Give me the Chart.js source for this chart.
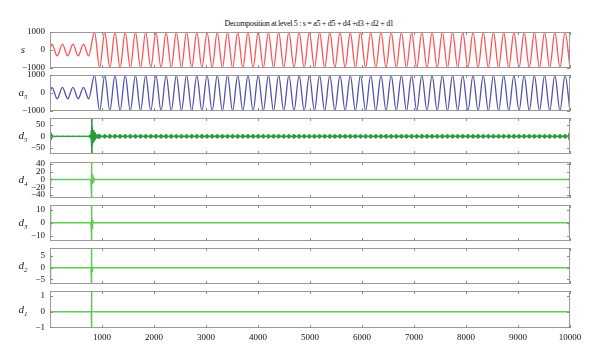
<!DOCTYPE html>
<html lang="en">
<head>
  <meta charset="UTF-8" />
  <title>Decomposition at level 5</title>
  <script src="https://cdn.jsdelivr.net/npm/chart.js"></script>
  <style>
    body { margin: 0; background: #fff; }
    #wrap { position: relative; width: 600px; height: 359px; font-family: 'Liberation Serif', serif; color: #222; }
    #wrap canvas { position: absolute; left: 0; }
    .title { position: absolute; top: 19px; left: 0; width: 618px; text-align: center; font-size: 8px; letter-spacing: -0.3px; color: #111; }
    .ylab { position: absolute; left: 12px; width: 22px; text-align: center; font-size: 11px; font-style: italic; line-height: 12px; }
    .ylab sub { font-size: 7px; }
  </style>
</head>
<body>
<div id="wrap">
  <div class="title">Decomposition at level 5 : s = a5 + d5 + d4 +d3 + d2 + d1</div>
</div>

<script>
  // ── data ────────────────────────────────────────────────────
  const xTicks = [1000, 2000, 3000, 4000, 5000, 6000, 7000, 8000, 9000, 10000];

  // s and a5: positions of the peaks / troughs
  const sX = [1, 38, 139, 240, 341, 442, 543, 644, 745,
    857, 955, 1054, 1152, 1250, 1349, 1447, 1545, 1644, 1742, 1841, 1939, 2037, 2136, 2234, 2332,
    2431, 2529, 2627, 2726, 2824, 2922, 3021, 3119, 3217, 3316, 3414, 3512, 3611, 3709, 3808, 3906,
    4004, 4103, 4201, 4299, 4398, 4496, 4594, 4693, 4791, 4889, 4988, 5086, 5184, 5283, 5381, 5479,
    5578, 5676, 5775, 5873, 5971, 6070, 6168, 6266, 6365, 6463, 6561, 6660, 6758, 6856, 6955, 7053,
    7151, 7250, 7348, 7446, 7545, 7643, 7742, 7840, 7938, 8037, 8135, 8233, 8332, 8430, 8528, 8627,
    8725, 8823, 8922, 9020, 9118, 9217, 9315, 9413, 9512, 9610, 9709, 9807, 9905, 10000];

  const sY = [60, 330, -330, 330, -330, 330, -330, 330, -330,
    1000, -1000, 1000, -1000, 1000, -1000, 1000, -1000, 1000, -1000, 1000, -1000, 1000, -1000, 1000, -1000,
    1000, -1000, 1000, -1000, 1000, -1000, 1000, -1000, 1000, -1000, 1000, -1000, 1000, -1000, 1000, -1000,
    1000, -1000, 1000, -1000, 1000, -1000, 1000, -1000, 1000, -1000, 1000, -1000, 1000, -1000, 1000, -1000,
    1000, -1000, 1000, -1000, 1000, -1000, 1000, -1000, 1000, -1000, 1000, -1000, 1000, -1000, 1000, -1000,
    1000, -1000, 1000, -1000, 1000, -1000, 1000, -1000, 1000, -1000, 1000, -1000, 1000, -1000, 1000, -1000,
    1000, -1000, 1000, -1000, 1000, -1000, 1000, -1000, 1000, -1000, 1000, -1000, 1000, -990];

  const a5Y = [55, 315, -320, 318, -320, 318, -320, 318, -320,
    990, -995, 995, -995, 995, -995, 995, -995, 995, -995, 995, -995, 995, -995, 995, -995,
    995, -995, 995, -995, 995, -995, 995, -995, 995, -995, 995, -995, 995, -995, 995, -995,
    995, -995, 995, -995, 995, -995, 995, -995, 995, -995, 995, -995, 995, -995, 995, -995,
    995, -995, 995, -995, 995, -995, 995, -995, 995, -995, 995, -995, 995, -995, 995, -995,
    995, -995, 995, -995, 995, -995, 995, -995, 995, -995, 995, -995, 995, -995, 995, -995,
    995, -995, 995, -995, 995, -995, 995, -995, 995, -995, 995, -995, 995, -985];

  // d5: edge spike, small ripple, burst at the jump, then the ripple
  const d5X = [1, 12, 25, 40, 60, 139, 240, 341, 442, 543, 644, 745,
    770, 785, 795, 801, 805, 810, 818, 828, 840, 852, 866, 880, 900, 920,
    955, 1054, 1152, 1250, 1349, 1447, 1545, 1644, 1742, 1841, 1939, 2037, 2136, 2234, 2332,
    2431, 2529, 2627, 2726, 2824, 2922, 3021, 3119, 3217, 3316, 3414, 3512, 3611, 3709, 3808, 3906,
    4004, 4103, 4201, 4299, 4398, 4496, 4594, 4693, 4791, 4889, 4988, 5086, 5184, 5283, 5381, 5479,
    5578, 5676, 5775, 5873, 5971, 6070, 6168, 6266, 6365, 6463, 6561, 6660, 6758, 6856, 6955, 7053,
    7151, 7250, 7348, 7446, 7545, 7643, 7742, 7840, 7938, 8037, 8135, 8233, 8332, 8430, 8528, 8627,
    8725, 8823, 8922, 9020, 9118, 9217, 9315, 9413, 9512, 9610, 9709, 9807, 9905, 9960, 9990, 10000];
  const d5Y = [0, 20, -15, 8, -2, 2, -2, 2, -2, 2, -2, 2,
    4, -10, 25, -80, 81, -40, 30, -28, 25, -18, 14, -10, 9, -8,
    -9, 9, -9, 9, -9, 9, -9, 9, -9, 9, -9, 9, -9, 9, -9,
    9, -9, 9, -9, 9, -9, 9, -9, 9, -9, 9, -9, 9, -9, 9, -9,
    9, -9, 9, -9, 9, -9, 9, -9, 9, -9, 9, -9, 9, -9, 9, -9,
    9, -9, 9, -9, 9, -9, 9, -9, 9, -9, 9, -9, 9, -9, 9, -9,
    9, -9, 9, -9, 9, -9, 9, -9, 9, -9, 9, -9, 9, -9, 9, -9,
    9, -9, 9, -9, 9, -9, 9, -9, 9, -9, 9, -9, 9, 0, 20, -16];

  const d4X = [1, 6, 12, 20, 780, 790, 795, 800, 803, 807, 812, 818, 824, 832, 842, 855, 9985, 9992, 10000];
  const d4Y = [0, 5, -4, 0, 0, -5, 12, -47, 45, -15, 14, -12, 10, -6, 3, 0, 0, 4, -2];

  const d3X = [1, 6, 12, 20, 785, 793, 797, 800, 803, 807, 812, 820, 830, 9985, 9993, 10000];
  const d3Y = [13, -5, 3, 0, 0, -3, 5, 13.5, -14, 6, -4, 2, 0, 0, -8, 12];

  const d2X = [1, 5, 10, 16, 790, 795, 798, 800, 802, 805, 810, 818, 9990, 9995, 10000];
  const d2Y = [5.5, -6, 1, 0, 0, 2, -2.5, 8.4, -7, 2, -1.5, 0, 0, -1.7, 5];

  const d1X = [1, 4, 8, 795, 799, 801, 804, 9995, 9998, 10000];
  const d1Y = [0.6, -0.6, 0, 0, 1.32, -1.04, 0, 0, -1.04, 1.32];

  // ── panels ──────────────────────────────────────────────────
  const pts = (xs, ys, k = 1) => xs.map((x, i) => ({ x, y: ys[i] * k }));
  const RED = '#ff5252', BLUE = '#5252ad', DKGREEN = '#2b9c3c', GREEN = '#62c957';

  const panels = [
    { label: '<i>s</i>', top: 32, h: 36, min: -1000, max: 1000, yTicks: [-1000, 0, 1000],
      datasets: [{ data: pts(sX, sY), borderColor: RED, borderWidth: 1.3, cubicInterpolationMode: 'monotone' }] },
    { label: '<i>a</i><sub>5</sub>', top: 75, h: 36, min: -1000, max: 1000, yTicks: [-1000, 0, 1000],
      datasets: [{ data: pts(sX, a5Y), borderColor: BLUE, borderWidth: 1.3, cubicInterpolationMode: 'monotone' }] },
    { label: '<i>d</i><sub>5</sub>', top: 118, h: 36, min: -78, max: 81, yTicks: [-50, 0, 50],
      datasets: [
        { data: pts(d5X, d5Y), borderColor: DKGREEN, borderWidth: 1 },
        { data: pts(d5X, d5Y, -1), borderColor: DKGREEN, borderWidth: 1, fill: '-1', backgroundColor: DKGREEN }
      ] },
    { label: '<i>d</i><sub>4</sub>', top: 162, h: 36, min: -48, max: 45, yTicks: [-40, -20, 0, 20, 40],
      datasets: [{ data: pts(d4X, d4Y), borderColor: GREEN, borderWidth: 1.5 }] },
    { label: '<i>d</i><sub>3</sub>', top: 205, h: 36, min: -14, max: 13.5, yTicks: [-10, 0, 10],
      datasets: [{ data: pts(d3X, d3Y), borderColor: GREEN, borderWidth: 1.5 }] },
    { label: '<i>d</i><sub>2</sub>', top: 248, h: 36, min: -7, max: 8.4, yTicks: [-5, 0, 5],
      datasets: [{ data: pts(d2X, d2Y), borderColor: GREEN, borderWidth: 1.5 }] },
    { label: '<i>d</i><sub>1</sub>', top: 291, h: 37, min: -1.04, max: 1.32, yTicks: [-1, 0, 1],
      datasets: [{ data: pts(d1X, d1Y), borderColor: GREEN, borderWidth: 1.5 }] }
  ];

  // box round the axes with inward tick marks, like MATLAB
  const boxPlugin = {
    id: 'box',
    afterDatasetsDraw(chart) {
      const { ctx, chartArea: a, scales: { x, y } } = chart;
      const seg = (x1, y1, x2, y2) => { ctx.beginPath(); ctx.moveTo(x1, y1); ctx.lineTo(x2, y2); ctx.stroke(); };
      ctx.save();
      ctx.lineWidth = 1;
      ctx.strokeStyle = '#9a9a9a';
      ctx.strokeRect(Math.round(a.left) + 0.5, Math.round(a.top) + 0.5, Math.round(a.width) - 1, Math.round(a.height) - 1);
      ctx.strokeStyle = '#8a8a8a';
      x.ticks.forEach(t => {
        const px = Math.round(x.getPixelForValue(t.value)) + 0.5;
        seg(px, a.top, px, a.top + 3);
        seg(px, a.bottom, px, a.bottom - 3);
      });
      y.ticks.forEach(t => {
        const py = Math.round(y.getPixelForValue(t.value)) + 0.5;
        seg(a.left, py, a.left + 3, py);
        seg(a.right, py, a.right - 3, py);
      });
      ctx.restore();
    }
  };

  const wrap = document.getElementById('wrap');
  const font = { family: "'Liberation Serif', serif", size: 9 };

  panels.forEach((p, i) => {
    const last = i === panels.length - 1;
    const padTop = 6;
    const canvas = document.createElement('canvas');
    canvas.width = 600;
    canvas.height = padTop + p.h + (last ? 22 : 6);
    canvas.style.top = (p.top - padTop) + 'px';
    wrap.appendChild(canvas);

    const lab = document.createElement('div');
    lab.className = 'ylab';
    lab.style.top = (p.top + p.h / 2 - 7) + 'px';
    lab.innerHTML = p.label;
    wrap.appendChild(lab);

    p.datasets.forEach(d => { d.pointRadius = 0; d.tension = 0; if (d.fill === undefined) d.fill = false; });

    new Chart(canvas.getContext('2d'), {
      type: 'line',
      data: { datasets: p.datasets },
      options: {
        responsive: false,
        animation: false,
        devicePixelRatio: 1,
        layout: { padding: { left: 0, right: 30, top: padTop, bottom: last ? 0 : 6 } },
        plugins: { legend: { display: false }, tooltip: { enabled: false } },
        scales: {
          x: {
            type: 'linear', min: 1, max: 10000,
            afterBuildTicks: s => { s.ticks = xTicks.map(v => ({ value: v })); },
            afterFit: s => { s.height = last ? 22 : 0; s.paddingLeft = 0; s.paddingRight = 0; },
            grid: { display: false, drawTicks: false },
            border: { display: false },
            ticks: { display: last, autoSkip: false, font, color: '#111', padding: 4, maxRotation: 0, callback: v => String(v) }
          },
          y: {
            min: p.min, max: p.max,
            afterBuildTicks: s => { s.ticks = p.yTicks.map(v => ({ value: v })); },
            afterFit: s => { s.width = 50; s.paddingTop = 0; s.paddingBottom = 0; },
            grid: { display: false, drawTicks: false },
            border: { display: false },
            ticks: { autoSkip: false, font, color: '#111', padding: 5, callback: v => v < 0 ? '\u2212' + Math.abs(v) : String(v) }
          }
        }
      },
      plugins: [boxPlugin]
    });
  });
</script>
</body>
</html>
